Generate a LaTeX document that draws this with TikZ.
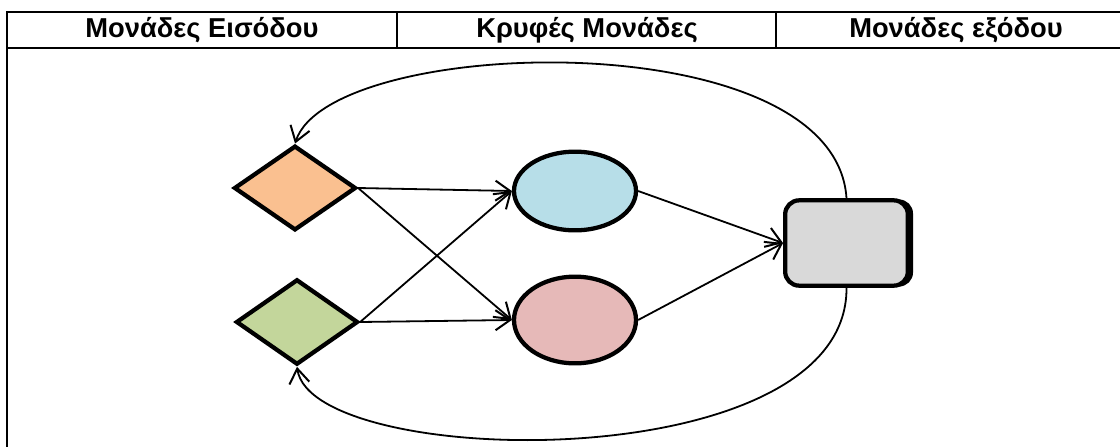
\documentclass[tikz,border=0pt]{standalone}
\usepackage{fontspec}
\setmainfont{Liberation Sans}
\usetikzlibrary{shapes.geometric,arrows.meta}
\definecolor{inorange}{HTML}{FAC090}
\definecolor{ingreen}{HTML}{C3D69B}
\definecolor{hidblue}{HTML}{B7DEE8}
\definecolor{hidpink}{HTML}{E6B9B8}
\definecolor{outgray}{HTML}{D9D9D9}
\tikzset{
  unit/.style={draw=black, line width=3.2pt, inner sep=0pt},
  inputunit/.style={unit, diamond, minimum width=91.5pt},
  hiddenunit/.style={unit, ellipse, minimum width=91.5pt},
  outputunit/.style={unit, rectangle, rounded corners=10.5pt, fill=outgray,
                     minimum width=92pt, minimum height=64pt},
  link/.style={line width=1.35pt, -{Straight Barb[length=11pt,width=15pt,line width=1.5pt]}},
  grid/.style={line width=2.2pt},
  head/.style={font=\fontsize{20.5}{24}\selectfont\bfseries, anchor=center}
}
\begin{document}
\begin{tikzpicture}[x=0.75pt, y=-0.75pt]
  \useasboundingbox (0,0) rectangle (1120,446);
  \clip (0,0) rectangle (1120,446);

  % table frame and header row
  \draw[grid] (7,470) -- (7,12) -- (1140,12);
  \draw[grid] (7,48) -- (1140,48);
  \draw[grid] (397,12) -- (397,48);
  \draw[grid] (776,12) -- (776,48);
  \node[head] (h1) at (202,30.5) {Μονάδες Εισόδου};
  \node[head] (h2) at (587,30.5) {Κρυφές Μονάδες};
  \node[head] (h3) at (956,30.5) {Μονάδες εξόδου};

  % units
  \node[inputunit, fill=inorange, minimum height=63.5pt] (i1) at (295,188) {};
  \node[inputunit, fill=ingreen, minimum height=64pt] (i2) at (297,322) {};
  \node[hiddenunit, fill=hidblue, minimum height=59pt] (h1u) at (575,191) {};
  \node[hiddenunit, fill=hidpink, minimum height=65pt] (h2u) at (575,320) {};
  \fill[black, rounded corners=10.5pt] (790,199.5) rectangle (913,286.5);
  \node[outputunit] (o) at (846.5,243) {};

  % forward connections
  \draw[link] (i1.east) -- (h1u.west);
  \draw[link] (i1.east) -- (h2u.west);
  \draw[link] (i2.east) -- (h1u.west);
  \draw[link] (i2.east) -- (h2u.west);
  \draw[link] (h1u.east) -- (o.west);
  \draw[link] (h2u.east) -- (o.west);

  % feedback connections
  \draw[link] (o.north) .. controls (835,20) and (330,35) .. (i1.north);
  \draw[link] (o.south) .. controls (848,480) and (312,470) .. (i2.south);
\end{tikzpicture}
\end{document}
